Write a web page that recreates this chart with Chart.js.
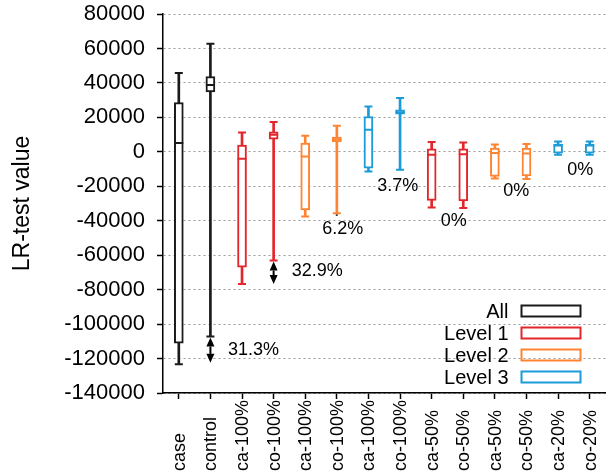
<!DOCTYPE html>
<html>
<head>
<meta charset="utf-8">
<script src="https://cdn.jsdelivr.net/npm/chart.js@4/dist/chart.umd.min.js"></script>
<style>
html,body{margin:0;padding:0;background:#fff;}
canvas{display:block;}
</style>
</head>
<body>
<canvas id="c" width="612" height="474"></canvas>
<script>
// ---- data ----
const categories = ['case','control','ca-100%','co-100%','ca-100%','co-100%','ca-100%','co-100%','ca-50%','co-50%','ca-50%','co-50%','ca-20%','co-20%'];
const groups     = ['All','All','Level 1','Level 1','Level 2','Level 2','Level 3','Level 3','Level 1','Level 1','Level 2','Level 2','Level 3','Level 3'];
const whiskerLow  = [-123250,-107200,-76800,-63100,-37560,-35590,-11430,-10450,-32330,-32680,-15500,-15850,-1740,-1740];
const quartile1   = [-111060,  34830,-66940,  7350,-33670,  5810, -9460, 21880,-28270,-28450,-14340,-13930, -750, -750];
const medians     = [   5050,  38720, -4060,  9870, -2730,  7140, 12770, 23040, -1740, -1340,  -750, -1000, 3660, 3660];
const quartile3   = [  28620,  43720,  3890, 11610,  5050,  8530, 20490, 24380,  1740,  1740,  2150,  2150, 4470, 4470];
const whiskerHigh = [  45690,  62700, 11200, 17240,  9290, 15090, 26300, 31170,  5630,  5400,  4300,  4470, 5980, 5980];
// gap between control whisker end and case whisker end (arrow)
const gapEnd      = [null,-122500,null,-76800,null,-37300,null,-11000,null,null,null,null,null,null];
const gapLabels   = ['31.3%','32.9%','6.2%','3.7%','0%','0%','0%'];
const gapLabelCat = [2.36, 4.38, 5.19, 6.93, 8.70, 10.68, 12.70];
const gapLabelVal = [-114950,-69090,-44700,-19740,-40060,-22640,-10450];
const legendLabels = ['All','Level 1','Level 2','Level 3'];
const yTickValues = [80000,60000,40000,20000,0,-20000,-40000,-60000,-80000,-100000,-120000,-140000];

const levelColors = {'All':'#1a1a1a','Level 1':'#e3262b','Level 2':'#ff8432','Level 3':'#1b9bd8'};
const colors = groups.map(g => levelColors[g]);
const FONT = "'Liberation Sans', Arial, sans-serif";

const overlay = {
  id: 'overlay',
  afterDraw(chart) {
    const {ctx, scales: {x, y}, chartArea} = chart;
    ctx.save();
    // category labels, rotated, starting at the bottom
    ctx.font = '18px ' + FONT;
    ctx.fillStyle = '#000';
    ctx.textAlign = 'left';
    ctx.textBaseline = 'middle';
    categories.forEach((c, i) => {
      const px = x.getPixelForTick(i);
      ctx.save();
      ctx.translate(px + 1, 471);
      ctx.rotate(-Math.PI / 2);
      ctx.fillText(c, 0, 0);
      ctx.restore();
    });
    // double arrows
    ctx.strokeStyle = '#000';
    ctx.fillStyle = '#000';
    gapEnd.forEach((v, i) => {
      if (v === null) return;
      const px = x.getPixelForValue(i);
      const y1 = y.getPixelForValue(whiskerLow[i]) + 1;
      const y2 = y.getPixelForValue(v);
      const d = y2 - y1;
      const h = Math.min(9, d / 2);
      const hw = Math.max(1.5, Math.min(4, h * 0.45));
      ctx.lineWidth = 2;
      ctx.beginPath(); ctx.moveTo(px, y1 + h); ctx.lineTo(px, y2 - h); ctx.stroke();
      ctx.beginPath(); ctx.moveTo(px, y1); ctx.lineTo(px - hw, y1 + h); ctx.lineTo(px + hw, y1 + h); ctx.closePath(); ctx.fill();
      ctx.beginPath(); ctx.moveTo(px, y2); ctx.lineTo(px - hw, y2 - h); ctx.lineTo(px + hw, y2 - h); ctx.closePath(); ctx.fill();
    });
    // gap percentage labels
    ctx.font = '18px ' + FONT;
    ctx.textAlign = 'center';
    ctx.textBaseline = 'middle';
    gapLabels.forEach((t, k) => {
      ctx.fillText(t, x.getPixelForValue(gapLabelCat[k]), y.getPixelForValue(gapLabelVal[k]));
    });
    // legend
    ctx.font = '20px ' + FONT;
    ctx.textAlign = 'right';
    legendLabels.forEach((t, k) => {
      const yc = chartArea.bottom - 82 + 22 * k;
      const sx = chartArea.right - 84;
      ctx.fillStyle = '#000';
      ctx.fillText(t, sx - 13, yc + 1);
      ctx.strokeStyle = levelColors[t];
      ctx.lineWidth = 2;
      ctx.strokeRect(sx, yc - 5.5, 59, 11);
    });
    ctx.restore();
  }
};

const pointCommon = {type: 'line', showLine: false, pointStyle: 'line', pointBorderWidth: 2, pointBorderColor: colors, pointBackgroundColor: colors, pointHoverRadius: 0};

new Chart(document.getElementById('c'), {
  type: 'bar',
  data: {
    labels: categories,
    datasets: [
      {type: 'bar', label: 'whisker', data: categories.map((_, i) => [whiskerLow[i], whiskerHigh[i]]), backgroundColor: colors, borderWidth: 0, barThickness: 2, grouped: false, order: 5},
      {type: 'bar', label: 'box', data: categories.map((_, i) => [quartile1[i], quartile3[i]]), backgroundColor: '#ffffff', borderColor: colors, borderWidth: 2, borderSkipped: false, barThickness: 9, grouped: false, order: 4},
      Object.assign({label: 'median', data: medians, pointRadius: 4.5, order: 1}, pointCommon),
      Object.assign({label: 'max', data: whiskerHigh, pointRadius: 4, order: 2}, pointCommon),
      Object.assign({label: 'min', data: whiskerLow, pointRadius: 4, order: 3}, pointCommon)
    ]
  },
  options: {
    responsive: false,
    devicePixelRatio: 1,
    animation: false,
    events: [],
    layout: {padding: {top: 0, right: 0, bottom: 0, left: 0}},
    plugins: {legend: {display: false}, tooltip: {enabled: false}},
    scales: {
      x: {
        offset: true,
        grid: {display: true, drawOnChartArea: false, drawTicks: true, tickLength: 6, tickColor: '#000', tickWidth: 1.5, offset: false},
        border: {display: true, color: '#000', width: 1.5},
        ticks: {display: false},
        afterFit(s) { s.height = 81; }
      },
      y: {
        min: -140000, max: 80000,
        afterBuildTicks(s) { s.ticks = yTickValues.map(v => ({value: v})); },
        ticks: {callback: v => String(v), font: {family: FONT, size: 22}, color: '#000', padding: 12},
        grid: {color: '#9a9a9a', lineWidth: 1, tickColor: '#000', tickLength: 6, tickWidth: 1.5},
        border: {display: true, color: '#000', width: 1.5, dash: [2, 3]},
        title: {display: true, text: 'LR-test value', font: {family: FONT, size: 23}, color: '#000', padding: {top: 9, bottom: 0}},
        afterFit(s) { s.width = 163; s.paddingTop = 14; s.paddingBottom = 0; }
      }
    }
  },
  plugins: [overlay]
});
</script>
</body>
</html>
